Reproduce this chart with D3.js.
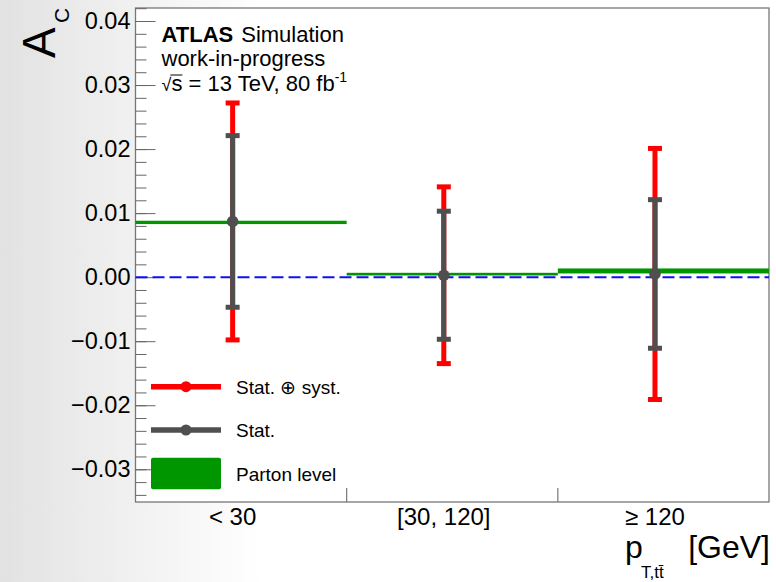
<!DOCTYPE html>
<html lang="en">
<head>
  <meta charset="UTF-8">
  <title>A_C vs pT,ttbar</title>
  <style>
      body { margin: 0; }
      svg text { font-family: "Liberation Sans", Arial, Helvetica, sans-serif; fill: #000; }
      .frame { fill: #fff; stroke: #777; stroke-width: 1.3; }
      .y-axis path { display: none; }
      .y-axis line { stroke: #666; }
  </style>
</head>
<body>
<div id="chart"></div>
<script src="https://d3js.org/d3.v7.min.js"></script>
<script>
  // bins and measured values
  const categories = ["< 30", "[30, 120]", "\u2265 120"];
  const acValues = [0.0087, 0.0003, 0.0005];
  const statErr = [0.0134, 0.0100, 0.0116];
  const totalErr = [0.0185, 0.0138, 0.0196];
  const partonValues = [0.00855, 0.00047, 0.00097];
  const partonErr = [0.00026, 0.00021, 0.00039];
  const yTickValues = [-0.03, -0.02, -0.01, 0.00, 0.01, 0.02, 0.03, 0.04];
  const yTickLabels = ["\u22120.03", "\u22120.02", "\u22120.01", "0.00", "0.01", "0.02", "0.03", "0.04"];
  const legendLabels = ["Stat. \u2295 syst.", "Stat.", "Parton level"];

  const W = 776, H = 582;
  const margin = {top: 8, right: 7, bottom: 80, left: 135.5};
  const width = W - margin.left - margin.right;
  const height = H - margin.top - margin.bottom;

  const red = "#ff0000", grey = "#4f4f4f", green = "#009600";

  const root = d3.select("#chart").append("svg")
    .attr("width", W)
    .attr("height", H);

  // slide-like background gradient
  const grad = root.append("defs").append("linearGradient")
    .attr("id", "bg").attr("x1", 0).attr("x2", 1).attr("y1", 0).attr("y2", 0);
  grad.append("stop").attr("offset", "0%").attr("stop-color", "#e2e2e2");
  grad.append("stop").attr("offset", "34%").attr("stop-color", "#ffffff");
  root.append("rect").attr("width", W).attr("height", H).attr("fill", "url(#bg)");

  const svg = root.append("g")
    .attr("transform", `translate(${margin.left},${margin.top})`);

  const x = d3.scaleBand()
    .domain(categories)
    .range([0, width])
    .padding(0);

  const y = d3.scaleLinear()
    .domain([-0.03511, 0.04203])
    .range([height, 0]);

  const xp = c => x(c) + x.bandwidth() * 0.46;

  svg.append("rect")
    .attr("class", "frame")
    .attr("width", width)
    .attr("height", height);

  // minor and major ticks (drawn inward)
  svg.append("g")
    .attr("class", "y-axis")
    .call(d3.axisLeft(y).ticks(40).tickSizeInner(-11).tickSizeOuter(0).tickFormat(""));

  svg.append("g")
    .attr("class", "y-axis")
    .call(d3.axisLeft(y)
      .tickValues(yTickValues)
      .tickSizeInner(-20)
      .tickSizeOuter(0)
      .tickPadding(5)
      .tickFormat((d, i) => yTickLabels[i]))
    .selectAll("text")
    .style("font-size", "23.5px")
    .attr("fill", "#000");

  // bin separators at the bottom
  svg.selectAll(".sep")
    .data(categories.slice(1))
    .enter().append("line")
    .attr("x1", d => x(d)).attr("x2", d => x(d))
    .attr("y1", height).attr("y2", height - 14)
    .attr("stroke", "#777").attr("stroke-width", 1.2);

  // zero line
  svg.append("line")
    .attr("x1", 0).attr("x2", width)
    .attr("y1", y(0)).attr("y2", y(0))
    .attr("stroke", "#1010f0")
    .attr("stroke-width", 2)
    .attr("stroke-dasharray", "12,5");

  // parton level bands
  svg.selectAll(".parton")
    .data(partonValues)
    .enter().append("rect")
    .attr("class", "parton")
    .attr("x", (d, i) => x(categories[i]))
    .attr("width", x.bandwidth())
    .attr("y", (d, i) => y(d + partonErr[i]))
    .attr("height", (d, i) => y(d - partonErr[i]) - y(d + partonErr[i]))
    .attr("fill", green);

  function errorBars(errs, color, cls) {
    const g = svg.selectAll("." + cls)
      .data(acValues)
      .enter().append("g")
      .attr("class", cls);
    g.append("line")
      .attr("x1", (d, i) => xp(categories[i]))
      .attr("x2", (d, i) => xp(categories[i]))
      .attr("y1", (d, i) => y(d + errs[i]))
      .attr("y2", (d, i) => y(d - errs[i]))
      .attr("stroke", color).attr("stroke-width", 5);
    [1, -1].forEach(s => {
      g.append("rect")
        .attr("x", (d, i) => xp(categories[i]) - 7)
        .attr("y", (d, i) => y(d + s * errs[i]) - 2.5)
        .attr("width", 14).attr("height", 5)
        .attr("fill", color);
    });
  }
  errorBars(totalErr, red, "tot");
  errorBars(statErr, grey, "stat");

  svg.selectAll(".pt")
    .data(acValues)
    .enter().append("circle")
    .attr("cx", (d, i) => xp(categories[i]))
    .attr("cy", d => y(d))
    .attr("r", 5.8)
    .attr("fill", grey);

  // category labels
  svg.selectAll(".cat")
    .data(categories)
    .enter().append("text")
    .attr("x", d => xp(d))
    .attr("y", height + 23)
    .attr("text-anchor", "middle")
    .style("font-size", "24px")
    .text(d => d);

  // legend
  const legend = svg.append("g").attr("transform", "translate(15.5,0)");
  const legendColors = [red, grey];
  legendColors.forEach((c, i) => {
    const ly = 378.7 + i * 43.3;
    legend.append("line")
      .attr("x1", 0).attr("x2", 70).attr("y1", ly).attr("y2", ly)
      .attr("stroke", c).attr("stroke-width", 5.5);
    legend.append("circle").attr("cx", 35).attr("cy", ly).attr("r", 5.5).attr("fill", c);
    legend.append("text")
      .attr("x", 85).attr("y", ly + 7)
      .style("font-size", "19px")
      .text(legendLabels[i]);
  });
  legend.append("rect")
    .attr("x", 0).attr("y", 449.7).attr("width", 70).attr("height", 31.6)
    .attr("rx", 2).attr("fill", green);
  legend.append("text")
    .attr("x", 85).attr("y", 473)
    .style("font-size", "19px")
    .text(legendLabels[2]);

  // ATLAS label
  const lab = svg.append("g").attr("transform", "translate(26,0)");
  const t1 = lab.append("text").attr("x", 0).attr("y", 34).style("font-size", "22px");
  t1.append("tspan").style("font-weight", "bold").text("ATLAS");
  t1.append("tspan").attr("dx", 8).text("Simulation");
  lab.append("text").attr("x", 0).attr("y", 58).style("font-size", "22px").text("work-in-progress");
  const t3 = lab.append("text").attr("x", 0).attr("y", 83).style("font-size", "22px");
  t3.append("tspan").style("font-size", "18px").text("\u221A");
  t3.append("tspan").text("s = 13 TeV, 80 fb");
  t3.append("tspan").attr("dy", -9).style("font-size", "14px").text("-1");
  // bar over the "s" of the square root
  const tn = t3.node();
  const sx0 = tn.getStartPositionOfChar(1).x;
  const sx1 = tn.getEndPositionOfChar(1).x;
  lab.append("line")
    .attr("x1", sx0 - 1).attr("x2", sx1)
    .attr("y1", 67).attr("y2", 67)
    .attr("stroke", "#000").attr("stroke-width", 1);

  // y title
  root.append("text")
    .attr("transform", "translate(55,58) rotate(-90)")
    .style("font-size", "46px")
    .text("A");
  root.append("text")
    .attr("transform", "translate(69,23) rotate(-90)")
    .style("font-size", "21px")
    .text("C");

  // x title
  root.append("text")
    .attr("x", 770).attr("y", 558)
    .attr("text-anchor", "end")
    .style("font-size", "32px")
    .text("[GeV]");
  root.append("text")
    .attr("x", 625).attr("y", 558)
    .style("font-size", "32px")
    .text("p");
  root.append("text")
    .attr("x", 641).attr("y", 578)
    .style("font-size", "17px")
    .text("T,tt\u0304");
</script>
</body>
</html>
